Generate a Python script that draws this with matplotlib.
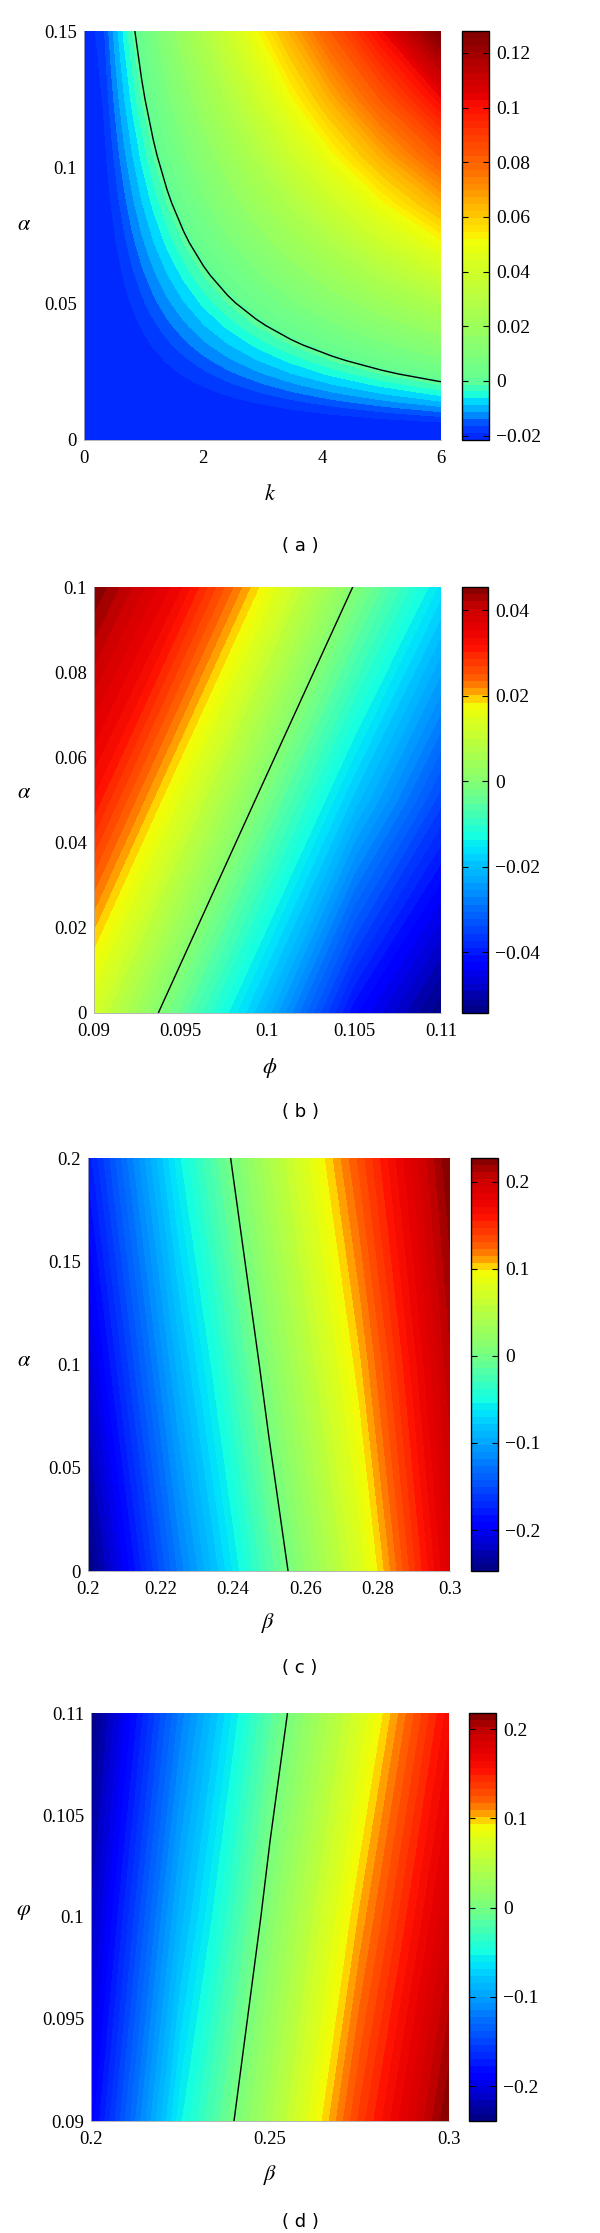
import numpy as np
import matplotlib
matplotlib.use("Agg")
import matplotlib.pyplot as plt
from matplotlib.colors import ListedColormap
from matplotlib.ticker import FuncFormatter

plt.rcParams['font.family'] = ['Liberation Serif', 'DejaVu Serif']
plt.rcParams['mathtext.fontset'] = 'stix'

# ---- (a): alpha against k (values on a geometric grid)
k_a = [0, 0.325, 0.389, 0.467, 0.561, 0.673, 0.808, 0.969, 1.163, 1.395, 1.675,
       2.009, 2.411, 2.894, 3.472, 4.167, 5, 6]
alpha_a = [0, 0.0056, 0.0068, 0.0081, 0.0097, 0.0117, 0.0140, 0.0168, 0.0202, 0.0242,
           0.0291, 0.0349, 0.0419, 0.0502, 0.0603, 0.0723, 0.0868, 0.1042, 0.125, 0.15]
z_a = [
    [-0.0216, -0.0216, -0.0216, -0.0216, -0.0216, -0.0216, -0.0216, -0.0216, -0.0216, -0.0216, -0.0216, -0.0216, -0.0216, -0.0216, -0.0216, -0.0216, -0.0216, -0.0216],
    [-0.0216, -0.0216, -0.0216, -0.0216, -0.0215, -0.0215, -0.0215, -0.0215, -0.0215, -0.0214, -0.0214, -0.0213, -0.0213, -0.0211, -0.0210, -0.0208, -0.0204, -0.0198],
    [-0.0216, -0.0216, -0.0216, -0.0215, -0.0215, -0.0215, -0.0215, -0.0215, -0.0214, -0.0214, -0.0213, -0.0213, -0.0211, -0.0210, -0.0208, -0.0204, -0.0198, -0.0189],
    [-0.0216, -0.0216, -0.0215, -0.0215, -0.0215, -0.0215, -0.0215, -0.0214, -0.0214, -0.0213, -0.0213, -0.0211, -0.0210, -0.0208, -0.0204, -0.0198, -0.0189, -0.0173],
    [-0.0216, -0.0215, -0.0215, -0.0215, -0.0215, -0.0215, -0.0214, -0.0214, -0.0213, -0.0213, -0.0211, -0.0210, -0.0208, -0.0204, -0.0198, -0.0189, -0.0173, -0.0149],
    [-0.0216, -0.0215, -0.0215, -0.0215, -0.0215, -0.0214, -0.0214, -0.0213, -0.0213, -0.0211, -0.0210, -0.0208, -0.0204, -0.0198, -0.0189, -0.0173, -0.0149, -0.0122],
    [-0.0216, -0.0215, -0.0215, -0.0215, -0.0214, -0.0214, -0.0213, -0.0213, -0.0211, -0.0210, -0.0208, -0.0204, -0.0198, -0.0189, -0.0173, -0.0149, -0.0122, -0.0092],
    [-0.0216, -0.0215, -0.0215, -0.0214, -0.0214, -0.0213, -0.0213, -0.0211, -0.0210, -0.0208, -0.0204, -0.0198, -0.0189, -0.0173, -0.0149, -0.0122, -0.0092, -0.0058],
    [-0.0216, -0.0215, -0.0214, -0.0214, -0.0213, -0.0213, -0.0211, -0.0210, -0.0208, -0.0204, -0.0198, -0.0189, -0.0173, -0.0149, -0.0122, -0.0092, -0.0058, -0.0013],
    [-0.0216, -0.0214, -0.0214, -0.0213, -0.0213, -0.0211, -0.0210, -0.0208, -0.0204, -0.0198, -0.0189, -0.0173, -0.0149, -0.0122, -0.0092, -0.0058, -0.0013, 0.0032],
    [-0.0216, -0.0214, -0.0213, -0.0213, -0.0211, -0.0210, -0.0208, -0.0204, -0.0198, -0.0189, -0.0173, -0.0149, -0.0122, -0.0092, -0.0058, -0.0013, 0.0032, 0.0079],
    [-0.0216, -0.0213, -0.0213, -0.0211, -0.0210, -0.0208, -0.0204, -0.0198, -0.0189, -0.0173, -0.0149, -0.0122, -0.0092, -0.0058, -0.0013, 0.0032, 0.0079, 0.0134],
    [-0.0216, -0.0213, -0.0211, -0.0210, -0.0208, -0.0204, -0.0198, -0.0189, -0.0173, -0.0149, -0.0122, -0.0092, -0.0058, -0.0013, 0.0032, 0.0079, 0.0134, 0.0197],
    [-0.0216, -0.0211, -0.0210, -0.0208, -0.0204, -0.0198, -0.0189, -0.0173, -0.0149, -0.0122, -0.0092, -0.0058, -0.0013, 0.0032, 0.0079, 0.0134, 0.0197, 0.0273],
    [-0.0216, -0.0210, -0.0208, -0.0204, -0.0198, -0.0189, -0.0173, -0.0149, -0.0122, -0.0092, -0.0058, -0.0013, 0.0032, 0.0079, 0.0134, 0.0197, 0.0273, 0.0381],
    [-0.0216, -0.0208, -0.0204, -0.0198, -0.0189, -0.0173, -0.0149, -0.0122, -0.0092, -0.0058, -0.0013, 0.0032, 0.0079, 0.0134, 0.0197, 0.0273, 0.0381, 0.0508],
    [-0.0216, -0.0204, -0.0198, -0.0189, -0.0173, -0.0149, -0.0122, -0.0092, -0.0058, -0.0013, 0.0032, 0.0079, 0.0134, 0.0197, 0.0273, 0.0381, 0.0508, 0.0655],
    [-0.0216, -0.0198, -0.0189, -0.0173, -0.0149, -0.0122, -0.0092, -0.0058, -0.0013, 0.0032, 0.0079, 0.0134, 0.0197, 0.0273, 0.0381, 0.0508, 0.0655, 0.0830],
    [-0.0216, -0.0189, -0.0173, -0.0149, -0.0122, -0.0092, -0.0058, -0.0013, 0.0032, 0.0079, 0.0134, 0.0197, 0.0273, 0.0381, 0.0508, 0.0655, 0.0830, 0.1020],
    [-0.0216, -0.0173, -0.0149, -0.0122, -0.0092, -0.0058, -0.0013, 0.0032, 0.0079, 0.0134, 0.0197, 0.0273, 0.0381, 0.0508, 0.0655, 0.0830, 0.1020, 0.1280],
]
xticks_a = [0, 2, 4, 6]
yticks_a = [0, 0.05, 0.1, 0.15]
cticks_a = [-0.02, 0, 0.02, 0.04, 0.06, 0.08, 0.1, 0.12]

# ---- (b): alpha against phi
phi_b = [0.09, 0.095, 0.1, 0.105, 0.11]
alpha_b = [0, 0.05, 0.1]
z_b = [
    [0.0126, -0.0044, -0.0214, -0.0420, -0.0542],
    [0.0316, 0.0146, -0.0024, -0.0194, -0.0350],
    [0.0454, 0.0337, 0.0167, -0.0003, -0.0160],
]
xticks_b = [0.09, 0.095, 0.1, 0.105, 0.11]
yticks_b = [0, 0.02, 0.04, 0.06, 0.08, 0.1]
cticks_b = [-0.04, -0.02, 0, 0.02, 0.04]

# ---- (c): alpha against beta
beta_c = [0.2, 0.225, 0.25, 0.275, 0.3]
alpha_c = [0, 0.1, 0.2]
z_c = [
    [-0.247, -0.125, -0.020, 0.075, 0.190],
    [-0.213, -0.091, 0.011, 0.104, 0.209],
    [-0.180, -0.057, 0.042, 0.133, 0.227],
]
xticks_c = [0.2, 0.22, 0.24, 0.26, 0.28, 0.3]
yticks_c = [0, 0.05, 0.1, 0.15, 0.2]
cticks_c = [-0.2, -0.1, 0, 0.1, 0.2]

# ---- (d): phi against beta
beta_d = [0.2, 0.225, 0.25, 0.275, 0.3]
phi_d = [0.09, 0.1, 0.11]
z_d = [
    [-0.190, -0.055, 0.037, 0.135, 0.218],
    [-0.215, -0.088, 0.010, 0.103, 0.189],
    [-0.239, -0.120, -0.017, 0.070, 0.160],
]
xticks_d = [0.2, 0.25, 0.3]
yticks_d = [0.09, 0.095, 0.1, 0.105, 0.11]
cticks_d = [-0.2, -0.1, 0, 0.1, 0.2]

W, H = 600, 2233
fig = plt.figure(figsize=(W / 100, H / 100), dpi=100)

jet = plt.get_cmap('jet')
pos = np.linspace(0, 1, 256)
# the original bars stretch green/yellow and squeeze orange
cmap_main = ListedColormap(jet(np.interp(
    pos, [0, 0.14, 0.4, 0.53, 0.72, 0.78, 0.86, 0.95, 1],
    [0, 0.15, 0.36, 0.5, 0.64, 0.8, 0.89, 0.93, 1])))
# panel (a): the negative part is packed into the bottom of the bar
za = np.array(z_a)
p0 = -za.min() / (za.max() - za.min())
cmap_a = ListedColormap(jet(np.interp(
    pos, [0, 0.031, p0, 0.278, 0.478, 0.645, 0.81, 1],
    [0.16, 0.19, 0.47, 0.54, 0.635, 0.78, 0.89, 1.0])))


def fmt(v, pos):
    return f'{v:g}'.replace('-', '\u2212')


def px_rect(l, r, t, b):
    return [l / W, 1 - b / H, (r - l) / W, (b - t) / H]


def panel(box, cbox, x, y, z, cmap, xticks, yticks, cticks, xlabel, ylabel,
          xlab_px, ylab_px, tag, tag_y):
    l, r, t, b = box
    ax = fig.add_axes(px_rect(l, r, t, b))
    cax = fig.add_axes(px_rect(cbox[0], cbox[1], t, b))
    X, Y = np.meshgrid(x, y)
    Z = np.array(z)
    levels = np.linspace(Z.min(), Z.max(), 60)
    cs = ax.contourf(X, Y, Z, levels=levels, cmap=cmap)
    ax.contour(X, Y, Z, levels=[0], colors='k', linewidths=1.0)
    ax.set_xlim(x[0], x[-1])
    ax.set_ylim(y[0], y[-1])
    ax.set_xticks(xticks)
    ax.set_yticks(yticks)
    ax.xaxis.set_major_formatter(FuncFormatter(fmt))
    ax.yaxis.set_major_formatter(FuncFormatter(fmt))
    ax.tick_params(axis='x', length=0, pad=7, labelsize=13.5)
    ax.tick_params(axis='y', length=0, pad=5, labelsize=13.5)
    for s in ['top', 'right']:
        ax.spines[s].set_visible(False)
    for s in ['left', 'bottom']:
        ax.spines[s].set_color('#aaaaaa')
        ax.spines[s].set_linewidth(0.6)

    ax.set_xlabel(xlabel, fontsize=16)
    ax.xaxis.label.set_va('center')
    ax.xaxis.set_label_coords((xlab_px[0] - l) / (r - l), (b - xlab_px[1]) / (b - t))
    ax.set_ylabel(ylabel, fontsize=16, rotation=0, va='center', ha='center')
    ax.yaxis.set_label_coords((ylab_px[0] - l) / (r - l), (b - ylab_px[1]) / (b - t))

    cb = fig.colorbar(cs, cax=cax)
    cb.set_ticks(cticks)
    cb.ax.yaxis.set_major_formatter(FuncFormatter(fmt))
    cb.ax.tick_params(direction='in', length=4, width=0.8, left=True, right=True,
                      labelsize=14, pad=5)
    cb.outline.set_linewidth(1.0)
    cb.outline.set_edgecolor('black')

    fig.text(0.5, 1 - tag_y / H, tag, ha='center', va='center',
             family='DejaVu Sans', fontsize=13)


panel((84, 441, 31, 440), (462, 489), k_a, alpha_a, z_a, cmap_a,
      xticks_a, yticks_a, cticks_a, r'$k$', r'$\alpha$',
      (270, 495), (24, 226), '( a )', 546)
panel((94, 441, 587, 1013), (462, 488), phi_b, alpha_b, z_b, cmap_main,
      xticks_b, yticks_b, cticks_b, r'$\phi$', r'$\alpha$',
      (270, 1068), (24, 794), '( b )', 1112)
panel((88, 450, 1158, 1571), (471, 498), beta_c, alpha_c, z_c, cmap_main,
      xticks_c, yticks_c, cticks_c, r'$\beta$', r'$\alpha$',
      (268, 1623), (24, 1361), '( c )', 1668)
panel((91, 449, 1713, 2121), (469, 496), beta_d, phi_d, z_d, cmap_main,
      xticks_d, yticks_d, cticks_d, r'$\beta$', r'$\varphi$',
      (270, 2175), (24, 1912), '( d )', 2222)

fig.savefig('out.png', dpi=100)
